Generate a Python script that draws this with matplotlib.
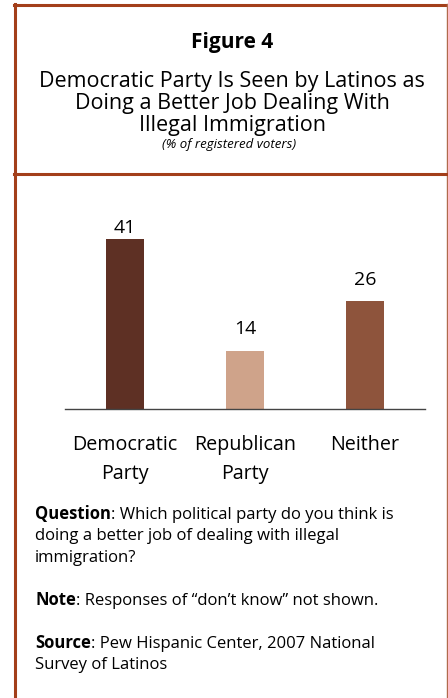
import matplotlib

matplotlib.use("Agg")
from matplotlib import pyplot as plt
from matplotlib import transforms
from matplotlib.lines import Line2D

categories = ["Democratic\nParty", "Republican\nParty", "Neither"]
values = [41, 14, 26]
bar_colors = ["#5e3024", "#cfa38a", "#8e543c"]

title = "Figure 4"
subtitle = ["Democratic Party Is Seen by Latinos as", "Doing a Better Job Dealing With", "Illegal Immigration"]
unit_note = "(% of registered voters)"
notes = [
    ("Question", [": Which political party do you think is",
                  "doing a better job of dealing with illegal",
                  "immigration?"]),
    ("Note", [": Responses of \u201cdon\u2019t know\u201d not shown."]),
    ("Source", [": Pew Hispanic Center, 2007 National", "Survey of Latinos"]),
]

W, H = 448, 698
FONT = ["Open Sans", "DejaVu Sans"]
RUST = "#a33f1a"

plt.rcParams["font.family"] = FONT
fig = plt.figure(figsize=(W / 100, H / 100), dpi=100)


def fx(px):
    return px / W


def fy(py):
    return 1 - py / H


# frame
fig.add_artist(Line2D([fx(15), fx(15)], [fy(4), fy(H)], color=RUST, lw=2.2))
fig.add_artist(Line2D([fx(14), fx(W)], [fy(5), fy(5)], color=RUST, lw=2.2))
fig.add_artist(Line2D([fx(447), fx(447)], [fy(4), fy(H)], color="#b06a4c", lw=1.0))
fig.add_artist(Line2D([fx(14), fx(W)], [fy(173.5), fy(173.5)], color=RUST, lw=2.2))

fig.text(fx(232), fy(48), title, ha="center", va="baseline", fontsize=15, fontweight="bold")
for line, base in zip(subtitle, [87, 109, 131]):
    fig.text(fx(232), fy(base), line, ha="center", va="baseline", fontsize=15.5)
fig.text(fx(229), fy(148), unit_note, ha="center", va="baseline", fontsize=9.5, style="italic")

# chart
ax = fig.add_axes([fx(65), fy(409), fx(425) - fx(65), (409 - 239) / H])
x = list(range(len(values)))
ax.bar(x, values, width=0.31, color=bar_colors)
ax.set_xlim(-0.5, 2.5)
ax.set_ylim(0, max(values))
label_pad = [4.5, 12, 12]
for xi, v, pad in zip(x, values, label_pad):
    ax.annotate(str(v), (xi, v), xytext=(0, pad), textcoords="offset points",
                ha="center", va="baseline", fontsize=14, annotation_clip=False)
ax.set_xticks([])
ax.set_yticks([])
cat_tr = transforms.blended_transform_factory(ax.transData, fig.transFigure)
for xi, cat in zip(x, categories):
    for line, base in zip(cat.split("\n"), [450, 479]):
        ax.text(xi, fy(base), line, transform=cat_tr, ha="center", va="baseline",
                fontsize=14.2, clip_on=False)
for side in ["left", "right", "top"]:
    ax.spines[side].set_visible(False)
ax.spines["bottom"].set_color("#444444")
ax.spines["bottom"].set_linewidth(1.0)
ax.patch.set_alpha(0)

# notes with bold lead words
renderer = fig.canvas.get_renderer()
note_bases = [519, 605, 648]
for (lead, rest), base in zip(notes, note_bases):
    t = fig.text(fx(35), fy(base), lead, ha="left", va="baseline", fontsize=12,
                 fontweight="bold")
    bb = t.get_window_extent(renderer)
    for i, line in enumerate(rest):
        xpos = bb.x1 / W if i == 0 else fx(35)
        fig.text(xpos, fy(base + 21.3 * i), line, ha="left", va="baseline", fontsize=12)

fig.savefig("out.png", dpi=100)
